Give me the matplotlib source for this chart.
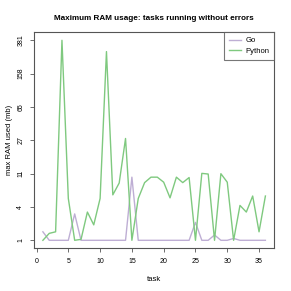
import numpy as np
import matplotlib
matplotlib.use("Agg")
import matplotlib.pyplot as plt

# max RAM used (mb) per task
tasks = list(range(1, 37))
go_ram = [1.5, 1, 1, 1, 1, 3.0, 1, 1, 1, 1, 1, 1, 1, 1, 9.5, 1, 1, 1,
          1, 1, 1, 1, 1, 1, 2.2, 1, 1, 1.3, 1, 1, 1.1, 1, 1, 1, 1, 1]
python_ram = [1, 1.4, 1.5, 381, 5.0, 1, 1.05, 3.2, 2.0, 5.0, 283, 5.6, 8.0, 28, 1, 5.0, 8.1, 9.5,
              9.5, 8.2, 5.1, 9.5, 8.1, 9.4, 1, 10.6, 10.4, 1, 10.5, 8.2, 1, 4.0, 3.2, 5.4, 1.5, 5.4]

plt.rcParams['font.family'] = ['Liberation Sans', 'DejaVu Sans']

fig = plt.figure(figsize=(2.91, 2.91), dpi=100)
ax = fig.add_axes([0.1168, 0.1467, 0.8258, 0.7423])

ax.plot(tasks, go_ram, color="#BEAED4", lw=1.0, label="Go")
ax.plot(tasks, python_ram, color="#7FC97F", lw=1.0, label="Python")

# log(y+1) axis, ticks equally spaced between min and max
ax.set_yscale("function", functions=(lambda y: np.log(np.maximum(y, 0) + 1), lambda t: np.exp(t) - 1))
all_vals = go_ram + python_ram
tmin, tmax = np.log(min(all_vals) + 1), np.log(max(all_vals) + 1)
pad = (tmax - tmin) * 0.04
ax.set_ylim(np.exp(tmin - pad) - 1, np.exp(tmax + pad) - 1)
yt = np.exp(np.linspace(tmin, tmax, 7)) - 1
ax.set_yticks(yt)
ax.set_yticklabels([str(int(round(v))) for v in yt], rotation=90, va="center")
ax.minorticks_off()

ax.set_xlim(1 - 35 * 0.04, 36 + 35 * 0.04)
ax.set_xticks(range(0, 40, 5))

for s in ax.spines.values():
    s.set_color("#555555")
    s.set_linewidth(0.8)
ax.tick_params(labelsize=5, length=3, width=0.6, color="#555555", pad=4)

ax.set_xlabel("task", fontsize=5.5, labelpad=8)
ax.set_ylabel("max RAM used (mb)", fontsize=5.5, labelpad=3)
ax.set_title("Maximum RAM usage: tasks running without errors", fontsize=5.9, fontweight="bold", pad=9)

leg = ax.legend(loc="upper right", fontsize=5.5, frameon=True, fancybox=False,
                borderaxespad=0, handlelength=1.6, handletextpad=0.6,
                borderpad=0.6, labelspacing=0.45)
leg.get_frame().set_edgecolor("#555555")
leg.get_frame().set_linewidth(0.8)

fig.savefig("out.png", dpi=100)
